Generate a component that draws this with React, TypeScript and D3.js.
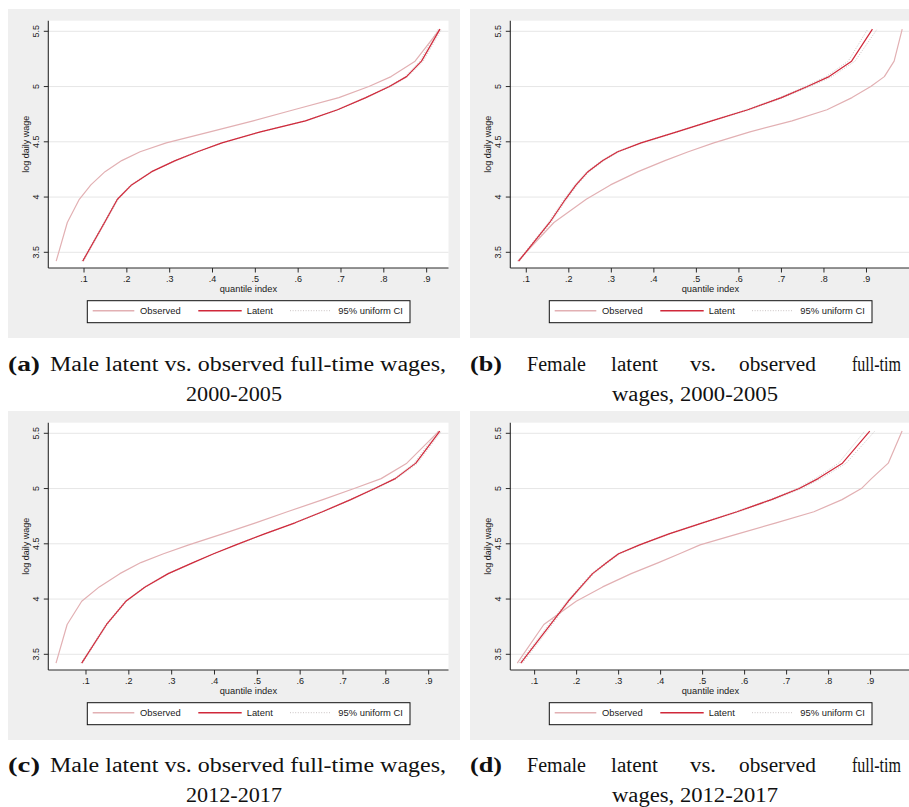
import React from 'react';
import * as d3 from 'd3';

// Wage thresholds (log daily wage) at which the quantile index is evaluated
const wageGrid = [3.42, 3.77, 3.98, 4.11, 4.23, 4.33, 4.41, 4.49, 4.59, 4.69, 4.79, 4.9, 5.0, 5.09, 5.23, 5.52];

// (a) Male, 2000-2005
const observedMale0005 = [0.035, 0.061, 0.089, 0.116, 0.149, 0.188, 0.231, 0.292, 0.394, 0.495, 0.59, 0.695, 0.765, 0.817, 0.873, 0.931];
const latentMale0005 = [0.097, 0.148, 0.178, 0.211, 0.258, 0.313, 0.365, 0.422, 0.512, 0.617, 0.692, 0.758, 0.813, 0.853, 0.888, 0.931];
const ciLowMale0005 = [0.095, 0.146, 0.176, 0.209, 0.256, 0.311, 0.363, 0.42, 0.51, 0.615, 0.69, 0.756, 0.81, 0.85, 0.884, 0.927];
const ciHighMale0005 = [0.099, 0.15, 0.18, 0.213, 0.26, 0.315, 0.367, 0.424, 0.514, 0.619, 0.694, 0.76, 0.816, 0.856, 0.892, 0.935];

// (b) Female, 2000-2005
const observedFemale0005 = [0.08, 0.165, 0.241, 0.298, 0.363, 0.426, 0.481, 0.541, 0.626, 0.725, 0.807, 0.866, 0.91, 0.942, 0.965, 0.984];
const latentFemale0005 = [0.082, 0.155, 0.192, 0.217, 0.245, 0.28, 0.315, 0.37, 0.454, 0.536, 0.621, 0.7, 0.761, 0.812, 0.865, 0.914];
const ciLowFemale0005 = [0.08, 0.152, 0.189, 0.214, 0.242, 0.277, 0.312, 0.367, 0.451, 0.533, 0.617, 0.695, 0.755, 0.805, 0.857, 0.903];
const ciHighFemale0005 = [0.084, 0.158, 0.195, 0.22, 0.248, 0.283, 0.318, 0.373, 0.457, 0.539, 0.625, 0.705, 0.767, 0.819, 0.873, 0.925];

// (c) Male, 2012-2017
const observedMale1217 = [0.03, 0.056, 0.09, 0.131, 0.179, 0.228, 0.281, 0.34, 0.419, 0.496, 0.57, 0.653, 0.726, 0.789, 0.849, 0.924];
const latentMale1217 = [0.09, 0.148, 0.193, 0.238, 0.292, 0.35, 0.398, 0.45, 0.517, 0.588, 0.652, 0.718, 0.774, 0.822, 0.87, 0.926];
const ciLowMale1217 = [0.088, 0.146, 0.191, 0.236, 0.29, 0.348, 0.396, 0.448, 0.515, 0.586, 0.65, 0.716, 0.771, 0.819, 0.866, 0.922];
const ciHighMale1217 = [0.092, 0.15, 0.195, 0.24, 0.294, 0.352, 0.4, 0.452, 0.519, 0.59, 0.654, 0.72, 0.777, 0.825, 0.874, 0.93];

// (d) Female, 2012-2017
const observedFemale1217 = [0.0587, 0.122, 0.199, 0.262, 0.33, 0.395, 0.445, 0.494, 0.584, 0.675, 0.765, 0.832, 0.878, 0.902, 0.942, 0.975];
const latentFemale1217 = [0.067, 0.138, 0.18, 0.21, 0.238, 0.272, 0.3, 0.35, 0.42, 0.5, 0.582, 0.664, 0.73, 0.775, 0.833, 0.898];
const ciLowFemale1217 = [0.063, 0.134, 0.177, 0.207, 0.235, 0.269, 0.297, 0.347, 0.417, 0.497, 0.578, 0.659, 0.725, 0.768, 0.824, 0.886];
const ciHighFemale1217 = [0.071, 0.142, 0.183, 0.213, 0.241, 0.275, 0.303, 0.353, 0.423, 0.503, 0.586, 0.669, 0.735, 0.782, 0.842, 0.91];

const xTicks = [0.1, 0.2, 0.3, 0.4, 0.5, 0.6, 0.7, 0.8, 0.9];
const xTickLabels = ['.1', '.2', '.3', '.4', '.5', '.6', '.7', '.8', '.9'];
const yTicks = [3.5, 4, 4.5, 5, 5.5];
const yTickLabels = ['3.5', '4', '4.5', '5', '5.5'];
const legendLabels = ['Observed', 'Latent', '95% uniform CI'];
const xTitle = 'quantile index';
const yTitle = 'log daily wage';

const SANS = "'Liberation Sans', Arial, Helvetica, sans-serif";
const SERIF = "'Liberation Serif', 'Times New Roman', serif";

const BG = '#efefef';
const GRID = '#e6e6e6';
const AXIS = '#2b2b2b';
const OBS_COLOR = '#e2b0b3';
const LAT_COLOR = '#d0283a';
const CI_COLOR = '#c4bcbc';

const PANEL_W = 452;
const PANEL_H = 329;
const PLOT_L = 40.3;
const PLOT_T = 11.7;
const PLOT_W = 400.2;
const PLOT_H = 247.3;
const Y_DOMAIN: [number, number] = [3.358, 5.596];

type PanelProps = {
  gx: number;
  gy: number;
  xDomain: [number, number];
  observed: number[];
  latent: number[];
  ciLow: number[];
  ciHigh: number[];
};

function Panel({ gx, gy, xDomain, observed, latent, ciLow, ciHigh }: PanelProps) {
  const left = gx + PLOT_L;
  const top = gy + PLOT_T;
  const bottom = top + PLOT_H;
  const right = left + PLOT_W;
  const x = d3.scaleLinear().domain(xDomain).range([left, right]);
  const y = d3.scaleLinear().domain(Y_DOMAIN).range([bottom, top]);
  const line = d3
    .line<number>()
    .x((d) => x(d))
    .y((_d, i) => y(wageGrid[i]));

  const lx = gx;
  const ly = gy;
  const legendY = ly + 301.7;

  return (
    <g>
      <rect x={gx} y={gy} width={PANEL_W} height={PANEL_H} fill={BG} />
      <rect x={left} y={top} width={PLOT_W} height={PLOT_H} fill="#ffffff" />
      {yTicks.map((t) => (
        <line key={'g' + t} x1={left} x2={right} y1={y(t)} y2={y(t)} stroke={GRID} strokeWidth={1} />
      ))}
      <path d={line(ciLow) || ''} fill="none" stroke={CI_COLOR} strokeWidth={0.9} strokeDasharray="1 1.6" />
      <path d={line(ciHigh) || ''} fill="none" stroke={CI_COLOR} strokeWidth={0.9} strokeDasharray="1 1.6" />
      <path d={line(observed) || ''} fill="none" stroke={OBS_COLOR} strokeWidth={1.2} strokeLinejoin="round" />
      <path d={line(latent) || ''} fill="none" stroke={LAT_COLOR} strokeWidth={1.2} strokeLinejoin="round" />
      {/* axes */}
      <line x1={left} x2={left} y1={top} y2={bottom} stroke={AXIS} strokeWidth={1.1} />
      <line x1={left} x2={right} y1={bottom} y2={bottom} stroke={AXIS} strokeWidth={1.1} />
      {yTicks.map((t, i) => (
        <g key={'yt' + t}>
          <line x1={left - 4.5} x2={left} y1={y(t)} y2={y(t)} stroke={AXIS} strokeWidth={1} />
          <text
            transform={`translate(${left - 9},${y(t)}) rotate(-90)`}
            textAnchor="middle"
            fontFamily={SANS}
            fontSize={9}
            fill="#1a1a1a"
          >
            {yTickLabels[i]}
          </text>
        </g>
      ))}
      {xTicks.map((t, i) => (
        <g key={'xt' + t}>
          <line x1={x(t)} x2={x(t)} y1={bottom} y2={bottom + 4.5} stroke={AXIS} strokeWidth={1} />
          <text x={x(t)} y={bottom + 13.5} textAnchor="middle" fontFamily={SANS} fontSize={9} fill="#1a1a1a">
            {xTickLabels[i]}
          </text>
        </g>
      ))}
      <text x={(left + right) / 2} y={bottom + 24} textAnchor="middle" fontFamily={SANS} fontSize={9.3} fill="#1a1a1a">
        {xTitle}
      </text>
      <text
        transform={`translate(${gx + 20.5},${(top + bottom) / 2}) rotate(-90)`}
        textAnchor="middle"
        fontFamily={SANS}
        fontSize={9}
        fill="#1a1a1a"
      >
        {yTitle}
      </text>
      {/* legend */}
      <rect x={lx + 79.3} y={ly + 291.7} width={322.7} height={22} fill="#ffffff" stroke="#111" strokeWidth={1} />
      <line x1={lx + 84.7} x2={lx + 126.3} y1={legendY} y2={legendY} stroke={OBS_COLOR} strokeWidth={1.4} />
      <text x={lx + 132} y={legendY + 3.3} fontFamily={SANS} fontSize={9.4} fill="#1a1a1a">
        {legendLabels[0]}
      </text>
      <line x1={lx + 190.3} x2={lx + 233.7} y1={legendY} y2={legendY} stroke={LAT_COLOR} strokeWidth={1.4} />
      <text x={lx + 238.7} y={legendY + 3.3} fontFamily={SANS} fontSize={9.4} fill="#1a1a1a">
        {legendLabels[1]}
      </text>
      <line x1={lx + 282} x2={lx + 322} y1={legendY} y2={legendY} stroke={CI_COLOR} strokeWidth={0.9} strokeDasharray="1 1.6" />
      <text x={lx + 330.3} y={legendY + 3.3} fontFamily={SANS} fontSize={9.4} fill="#1a1a1a">
        {legendLabels[2]}
      </text>
    </g>
  );
}

function LeftCaption({ y0, tag, years }: { y0: number; tag: string; years: string }) {
  return (
    <g fontFamily={SERIF} fontSize={20} fill="#111">
      <text x={8} y={y0} fontWeight="bold" textLength={32} lengthAdjust="spacingAndGlyphs">
        {tag}
      </text>
      <text x={50} y={y0} textLength={396} lengthAdjust="spacingAndGlyphs">
        Male latent vs. observed full-time wages,
      </text>
      <text x={234} y={y0 + 30} textAnchor="middle" textLength={96} lengthAdjust="spacingAndGlyphs">
        {years}
      </text>
    </g>
  );
}

function RightCaption({ y0, tag, years }: { y0: number; tag: string; years: string }) {
  // first line is justified across the column and runs on to the page edge
  const words = ['Female', 'latent', 'vs.', 'observed'];
  const xs = [527, 611, 690, 739];
  const widths = [59, 47, 26, 77];
  return (
    <g fontFamily={SERIF} fontSize={20} fill="#111">
      <text x={470} y={y0} fontWeight="bold" textLength={32} lengthAdjust="spacingAndGlyphs">
        {tag}
      </text>
      {words.map((w, i) => (
        <text key={w} x={xs[i]} y={y0} textLength={widths[i]} lengthAdjust="spacingAndGlyphs">
          {w}
        </text>
      ))}
      <text transform={`translate(852,${y0}) scale(0.8,1)`}>full-tim</text>
      <text x={695} y={y0 + 30} textAnchor="middle" textLength={166} lengthAdjust="spacingAndGlyphs">
        {'wages, ' + years}
      </text>
    </g>
  );
}

export default function App() {
  return (
    <svg
      width={909}
      height={807}
      viewBox="0 0 909 807"
      style={{ position: 'absolute', left: 0, top: 0, display: 'block', background: '#ffffff' }}
    >
      <Panel
        gx={8}
        gy={9}
        xDomain={[0.0166, 0.951]}
        observed={observedMale0005}
        latent={latentMale0005}
        ciLow={ciLowMale0005}
        ciHigh={ciHighMale0005}
      />
      <Panel
        gx={470}
        gy={9}
        xDomain={[0.0624, 1.0035]}
        observed={observedFemale0005}
        latent={latentFemale0005}
        ciLow={ciLowFemale0005}
        ciHigh={ciHighFemale0005}
      />
      <Panel
        gx={8}
        gy={411}
        xDomain={[0.012, 0.9463]}
        observed={observedMale1217}
        latent={latentMale1217}
        ciLow={ciLowMale1217}
        ciHigh={ciHighMale1217}
      />
      <Panel
        gx={470}
        gy={411}
        xDomain={[0.0421, 0.995]}
        observed={observedFemale1217}
        latent={latentFemale1217}
        ciLow={ciLowFemale1217}
        ciHigh={ciHighFemale1217}
      />
      <LeftCaption y0={371} tag="(a)" years="2000-2005" />
      <RightCaption y0={371} tag="(b)" years="2000-2005" />
      <LeftCaption y0={772} tag="(c)" years="2012-2017" />
      <RightCaption y0={772} tag="(d)" years="2012-2017" />
    </svg>
  );
}
